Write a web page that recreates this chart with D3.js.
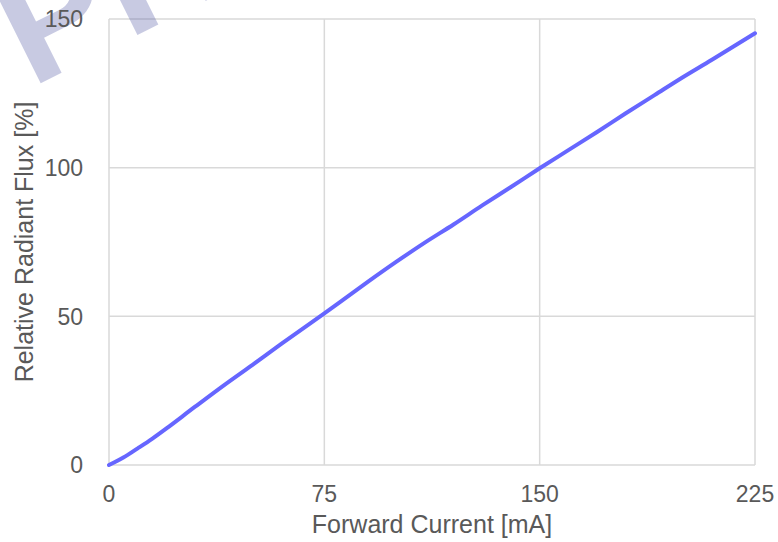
<!DOCTYPE html>
<html>
<head>
<meta charset="utf-8">
<script src="https://cdn.jsdelivr.net/npm/d3@7"></script>
<style>
  html, body { margin: 0; padding: 0; background: #fff; }
  svg { display: block; }
</style>
</head>
<body>
<svg id="chart" width="778" height="542"></svg>
<script>
// Data
const currentMA = [0, 5, 10, 15, 20, 30, 40, 50, 60, 75, 90, 100, 110, 120, 130, 140, 150, 160, 170, 180, 190, 200, 210, 225];
const relativeFlux = [0, 2.5, 5.6, 8.8, 12.3, 19.6, 26.8, 33.7, 40.7, 51.0, 61.5, 68.3, 74.8, 80.9, 87.3, 93.5, 99.8, 105.9, 112.0, 118.3, 124.4, 130.5, 136.3, 145.2];
const xTicks = [0, 75, 150, 225];
const yTicks = [0, 50, 100, 150];
const xTitle = "Forward Current [mA]";
const yTitle = "Relative Radiant Flux [%]";
const watermark = "PRELIMINARY";

const svg = d3.select("#chart");
const margin = { left: 109, top: 19, right: 778 - 755, bottom: 542 - 465 };
const W = 778, H = 542;

const x = d3.scaleLinear().domain([0, 225]).range([margin.left, W - margin.right]);
const y = d3.scaleLinear().domain([0, 150]).range([H - margin.bottom, margin.top]);

const gridColor = "#d9d9d9";
const textColor = "#595959";
const font = "'Liberation Sans', Arial, sans-serif";

// grid lines
svg.append("g").selectAll("line.v").data(xTicks).join("line")
  .attr("x1", d => x(d)).attr("x2", d => x(d))
  .attr("y1", y(0)).attr("y2", y(150))
  .attr("stroke", gridColor).attr("stroke-width", 1.5);
svg.append("g").selectAll("line.h").data(yTicks).join("line")
  .attr("x1", x(0)).attr("x2", x(225))
  .attr("y1", d => y(d)).attr("y2", d => y(d))
  .attr("stroke", gridColor).attr("stroke-width", 1.5);

// data line
const line = d3.line().x((d, i) => x(currentMA[i])).y(d => y(d)).curve(d3.curveCatmullRom);
svg.append("path").datum(relativeFlux)
  .attr("d", line)
  .attr("fill", "none")
  .attr("stroke", "#6666ff")
  .attr("stroke-width", 4)
  .attr("stroke-linecap", "round")
  .attr("stroke-linejoin", "round");

// watermark (partially outside the page, as in the reference)
svg.append("text")
  .attr("transform", "translate(31,88) rotate(-26.5)")
  .attr("font-family", font)
  .attr("font-weight", "bold")
  .attr("font-size", 162)
  .attr("fill", "rgb(72,78,158)")
  .attr("fill-opacity", 0.3)
  .text(watermark);

// tick labels
svg.append("g").selectAll("text").data(xTicks).join("text")
  .attr("x", d => x(d)).attr("y", 502)
  .attr("text-anchor", "middle")
  .attr("font-family", font).attr("font-size", 23).attr("fill", textColor)
  .text(d => d);
svg.append("g").selectAll("text").data(yTicks).join("text")
  .attr("x", 83).attr("y", d => y(d)).attr("dy", "0.36em")
  .attr("text-anchor", "end")
  .attr("font-family", font).attr("font-size", 23).attr("fill", textColor)
  .text(d => d);

// axis titles
svg.append("text")
  .attr("x", (x(0) + x(225)) / 2).attr("y", 533)
  .attr("text-anchor", "middle")
  .attr("font-family", font).attr("font-size", 25).attr("fill", textColor)
  .text(xTitle);
svg.append("text")
  .attr("transform", `translate(33,${(y(0) + y(150)) / 2}) rotate(-90)`)
  .attr("text-anchor", "middle")
  .attr("font-family", font).attr("font-size", 25).attr("fill", textColor)
  .text(yTitle);
</script>
</body>
</html>
